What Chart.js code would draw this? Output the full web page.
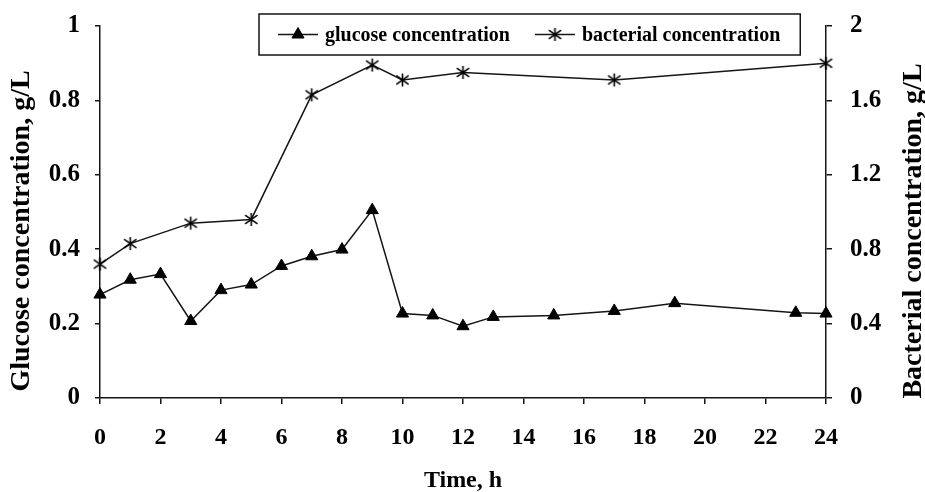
<!DOCTYPE html>
<html>
<head>
<meta charset="utf-8">
<script src="https://cdn.jsdelivr.net/npm/chart.js@4/dist/chart.umd.min.js"></script>
<style>
  html, body { margin: 0; padding: 0; background: #fff; }
  #wrap { width: 925px; height: 492px; }
</style>
</head>
<body>
<div id="wrap"><canvas id="grafico" width="925" height="492"></canvas></div>
<script>
// datos
const horasGlucosa = [0, 1, 2, 3, 4, 5, 6, 7, 8, 9, 10, 11, 12, 13, 15, 17, 19, 23, 24];
const glucosa = [0.278, 0.318, 0.333, 0.207, 0.29, 0.305, 0.355, 0.381, 0.399, 0.505, 0.227, 0.222, 0.193, 0.218, 0.222, 0.234, 0.255, 0.229, 0.227];

const horasBacterias = [0, 1, 3, 5, 7, 9, 10, 12, 17, 24];
const bacterias = [0.72, 0.83, 0.94, 0.96, 1.63, 1.79, 1.71, 1.75, 1.71, 1.8];

const ticksIzquierda = ["0", "0.2", "0.4", "0.6", "0.8", "1"];
const ticksDerecha = ["0", "0.4", "0.8", "1.2", "1.6", "2"];
const ticksTiempo = ["0", "2", "4", "6", "8", "10", "12", "14", "16", "18", "20", "22", "24"];

const etiquetas = ["glucose concentration", "bacterial concentration"];
const tituloIzq = "Glucose concentration, g/L";
const tituloDer = "Bacterial concentration, g/L";
const tituloX = "Time, h";

const tinta = "#151515";
const fuente = "'Liberation Serif', 'Times New Roman', serif";

// asterisco de 6 brazos para la serie de bacterias
function crearAsterisco(tam) {
  const c = document.createElement("canvas");
  c.width = tam;
  c.height = tam;
  const g = c.getContext("2d");
  const m = tam / 2;
  const r = tam / 2 - 1;
  g.strokeStyle = "#000";
  g.lineWidth = 1.6;
  g.beginPath();
  g.moveTo(m, m - r);
  g.lineTo(m, m + r);
  const d = r * 0.95;
  g.moveTo(m - d, m - d * 0.72);
  g.lineTo(m + d, m + d * 0.72);
  g.moveTo(m + d, m - d * 0.72);
  g.lineTo(m - d, m + d * 0.72);
  g.stroke();
  return c;
}
const asterisco = crearAsterisco(15);

function puntos(xs, ys) {
  return xs.map((x, i) => ({ x: x, y: ys[i] }));
}

function indiceTick(lista, valor, paso) {
  const i = Math.round(valor / paso);
  return lista[i] !== undefined ? lista[i] : "";
}

// titulos verticales (ambos se leen de abajo hacia arriba)
const titulosPlugin = {
  id: "titulosVerticales",
  afterDraw(chart) {
    const ctx = chart.ctx;
    const area = chart.chartArea;
    const yc = area.top + (area.bottom - area.top) / 2 + 19;
    ctx.save();
    ctx.fillStyle = "#000";
    ctx.font = "bold 28px " + fuente;
    ctx.textAlign = "center";
    ctx.textBaseline = "middle";
    [[22, tituloIzq], [914, tituloDer]].forEach(([x, texto]) => {
      ctx.save();
      ctx.translate(x, yc);
      ctx.rotate(-Math.PI / 2);
      ctx.fillText(texto, 0, 0);
      ctx.restore();
    });
    ctx.restore();
  }
};

const leyendaPlugin = {
  id: "leyendaCaja",
  afterDraw(chart) {
    const ctx = chart.ctx;
    const area = chart.chartArea;
    const x0 = area.left + 159;
    const y0 = area.top - 12;
    const alto = 41;
    const yc = y0 + alto / 2;
    ctx.save();
    ctx.font = "bold 20px " + fuente;
    let x = x0 + 19;
    const items = [];
    chart.data.datasets.forEach((ds) => {
      const ancho = ctx.measureText(ds.label).width;
      items.push({ ds: ds, x: x, ancho: ancho });
      x += 40 + 7 + ancho + 25;
    });
    const anchoCaja = x - 25 + 20 - x0;
    ctx.fillStyle = "#fff";
    ctx.fillRect(x0, y0, anchoCaja, alto);
    ctx.strokeStyle = tinta;
    ctx.lineWidth = 1.5;
    ctx.strokeRect(x0, y0, anchoCaja, alto);
    items.forEach((it) => {
      ctx.strokeStyle = tinta;
      ctx.lineWidth = 1.5;
      ctx.beginPath();
      ctx.moveTo(it.x, yc);
      ctx.lineTo(it.x + 40, yc);
      ctx.stroke();
      ctx.fillStyle = "#000";
      ctx.strokeStyle = "#000";
      ctx.lineWidth = 1;
      Chart.helpers.drawPoint(ctx, {
        pointStyle: it.ds.pointStyle,
        radius: it.ds.pointRadius,
        borderWidth: 1
      }, it.x + 20, yc);
      ctx.fillStyle = "#000";
      ctx.textBaseline = "middle";
      ctx.textAlign = "left";
      ctx.fillText(it.ds.label, it.x + 47, yc + 1);
    });
    ctx.restore();
  }
};

function fijarAncho(ancho) {
  return (s) => {
    s.width = ancho;
    s.paddingTop = 0;
    s.paddingBottom = 0;
  };
}

const ctx = document.getElementById("grafico").getContext("2d");
const miGrafico = new Chart(ctx, {
  type: "line",
  data: {
    datasets: [
      {
        label: etiquetas[0],
        data: puntos(horasGlucosa, glucosa),
        yAxisID: "y",
        borderColor: tinta,
        borderWidth: 1.5,
        backgroundColor: "#000",
        pointStyle: "triangle",
        pointRadius: 7,
        pointBorderWidth: 1,
        pointBorderColor: "#000",
        pointBackgroundColor: "#000",
        clip: false,
        tension: 0
      },
      {
        label: etiquetas[1],
        data: puntos(horasBacterias, bacterias),
        yAxisID: "y2",
        borderColor: tinta,
        borderWidth: 1.5,
        pointStyle: asterisco,
        pointRadius: 7,
        clip: false,
        tension: 0
      }
    ]
  },
  options: {
    responsive: false,
    animation: false,
    devicePixelRatio: 1,
    layout: { padding: { top: 26, left: 0, right: 0, bottom: 0 } },
    plugins: {
      legend: { display: false },
      tooltip: { enabled: false }
    },
    scales: {
      x: {
        type: "linear",
        min: 0,
        max: 24,
        afterFit: (s) => {
          s.height = 94;
          s.paddingLeft = 0;
          s.paddingRight = 0;
        },
        border: { display: true, color: tinta, width: 1.5 },
        grid: { drawOnChartArea: false, drawTicks: true, tickLength: 6, color: tinta, lineWidth: 1.5 },
        ticks: {
          stepSize: 2,
          padding: 19,
          maxRotation: 0,
          color: "#000",
          font: { family: fuente, size: 24, weight: "bold" },
          callback: (v) => indiceTick(ticksTiempo, v, 2)
        },
        title: {
          display: true,
          text: tituloX,
          color: "#000",
          padding: { top: 0, bottom: -3 },
          font: { family: fuente, size: 24, weight: "bold" }
        }
      },
      y: {
        position: "left",
        min: 0,
        max: 1,
        afterFit: fijarAncho(100),
        border: { display: true, color: tinta, width: 1.5 },
        grid: { drawOnChartArea: false, drawTicks: true, tickLength: 5, color: tinta, lineWidth: 1.5 },
        ticks: {
          stepSize: 0.2,
          padding: 15,
          color: "#000",
          font: { family: fuente, size: 25, weight: "bold" },
          callback: (v) => indiceTick(ticksIzquierda, v, 0.2)
        },
        title: { display: false }
      },
      y2: {
        position: "right",
        min: 0,
        max: 2,
        afterFit: fijarAncho(99),
        border: { display: true, color: tinta, width: 1.5 },
        grid: { drawOnChartArea: false, drawTicks: true, tickLength: 6, color: tinta, lineWidth: 1.5 },
        ticks: {
          stepSize: 0.4,
          padding: 18,
          color: "#000",
          font: { family: fuente, size: 25, weight: "bold" },
          callback: (v) => indiceTick(ticksDerecha, v, 0.4)
        },
        title: { display: false }
      }
    }
  },
  plugins: [leyendaPlugin, titulosPlugin]
});
</script>
</body>
</html>
